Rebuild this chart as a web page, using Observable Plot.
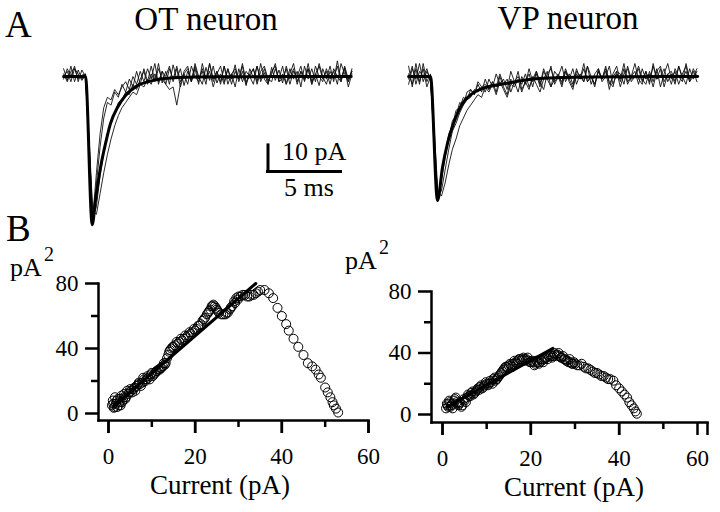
<!DOCTYPE html>
<html>
<head>
<meta charset="utf-8">
<script src="https://cdn.jsdelivr.net/npm/d3@7"></script>
<script src="https://cdn.jsdelivr.net/npm/@observablehq/plot@0.6"></script>
<style>
  html, body { margin: 0; padding: 0; background: #fff; font-family: 'Liberation Serif'; }
  #fig { position: relative; width: 720px; height: 512px; overflow: hidden; }
  #fig svg { position: absolute; left: 0; top: 0; }
  .lbl { position: absolute; white-space: nowrap; line-height: 1; color: #000; font-family: 'Liberation Serif'; }
</style>
</head>
<body>
<div id="fig"></div>
<script>
// ---------- Panel A: current traces (pA), sampled every 0.25 ms from -1.5 ms ----------
const traceStart = -1.5;   // ms
const traceStep = 0.25;    // ms
const otTrace1 = [3,-1.5,4,-2,2.5,-1,1, -30,-56,-41,-27,-16,-10,-11,-6,-8,-3,-6,-1,-4,2,-3,
  3,-2,4,-1.5,5,-2.5,2,-3,4.5,-1, 3,-3.5,2,-2,5,0,-3,3.5,-1.5,4, -2.5,1,-3,3,-1,4.5,-2,2,-3.5,3,
  -0.5,4,-2,1.5,-3,3.5,-1.5,2.5,-2.5,4, -1,3,-3,2,-1.5,5,-2,1,-3.5,3, -1,4,-2,6,-1,3.5,-2,2];
const otTrace2 = [-1,3,0,4,-2,2.5,0, -26,-55,-50,-38,-29,-22,-17,-14,-10,-9,-6,-7,-3,-5,-1,
  2,-3,1,-2,3,-1,-3,-5,-4,-11, -3,2,4,-2,3,-3,5,-1,2,-4, 1,4,-2,3,-3,2,-1,4,-3,1,
  3,-2,5,-1,-3,2,4,-2,1,-3, 3,-1,2,-4,4,-1,3,-2,5,0, -3,2,-1,4,-2,3,-4,1];
const otTrace3 = [1,-2,2,3,-1,0.5,1, -24,-52,-53,-45,-37,-30,-24,-19,-15,-12,-10,-8,-6,-7,-3,
  -4,-1,-3,1,-2,2,-3,3,-1,4, -2,1,-3,4,0,-2,3,-1,5,-2, 2,-3,4,-1,1,-4,3,-2,2,0,
  -3,4,-1,3,-2,1,5,-2,-1,3, -3,2,0,4,-2,3,-3,1,4,-1, 2,-3,3,0,-2,4,-1,2];
const otTrace4 = [0,2,-2,3,1,-1.5,0.5, -28,-54,-37,-22,-12,-8,-9,-5,-7,-4,-2,-5,0,-3,2,
  -2,3,-1,5,-3,2,0,4,-2,3, -4,1,3,-2,4,-1,2,-3,5,-1, 2,-2,4,-3,1,3,-1,5,-2,0,
  3,-3,2,4,-1,-2,3,-1,4,-3, 1,5,-2,2,-1,3,-3,4,0,-2, 3,-1,2,-3,5,1,-2,3];
const vpTrace1 = [4,-4,3,-3,5,-2,1, -25,-47,-38,-30,-22,-19,-13,-12,-8,-9,-5,-7,-3,-6,-1,
  -5,-2,-6,0,-4,-7,-1,-3,2,-5, -2,1,-4,2,-3,3,-1,-4,2,0, 4,-2,1,-3,3,-1,5,-2,0,-4,
  3,-1,2,-5,1,4,-2,3,-3,0, 5,-1,-3,2,-2,4,-1,3,-4,1, 2,-2,4,0,-3,3,-1,2];
const vpTrace2 = [-3,3,-1,5,-2,2,-1, -20,-44,-46,-41,-34,-28,-24,-19,-16,-13,-11,-9,-7,-8,-4,
  -6,-3,-7,-2,-5,-8,-3,-4,-1,-6, -2,-5,0,-3,-6,-1,2,-4,-1,1, -3,2,-2,-5,1,-1,3,-2,0,-3,
  2,-1,4,-3,0,2,-4,1,3,-2, 0,4,-1,-3,2,-2,3,-4,1,5, -1,2,-3,1,4,-2,0,3];
const vpTrace3 = [1,-3,5,-2,3,-4,0, -27,-48,-40,-31,-24,-17,-15,-10,-11,-6,-5,-7,-2,-4,-6,
  -1,-4,1,-3,-1,-5,2,-2,-6,0, -3,3,-2,1,-4,2,-1,4,-3,0, -2,3,-1,-4,2,0,-2,4,-3,1,
  3,-2,0,4,-3,1,-1,5,-2,0, 2,-3,3,-1,1,-4,2,4,-2,1, -3,3,0,-2,5,-1,2,-2];
const vpTrace4 = [-1,4,-3,2,0,3,-2, -23,-46,-44,-36,-28,-21,-18,-14,-11,-9,-8,-5,-6,-4,-3,
  -5,-2,-4,1,-3,-1,-6,-2,0,-3, 1,-4,-1,2,-2,-5,1,3,-2,0, -4,2,-1,3,-3,1,-2,4,0,-3,
  2,-1,3,-2,-4,2,1,-3,4,-1, 0,3,-2,2,-3,5,-1,0,3,-2, 1,-3,4,-1,2,-2,3,0];

// Averaged / fitted traces (thick lines)
const otFitTime    = [-1.5, 0, 0.46, 0.68, 1.03, 1.37, 1.71, 2.19, 2.74, 3.56, 4.66, 6.3, 9, 18.2];
const otFitCurrent = [0, 0, -57, -47.7, -35, -25.8, -18.1, -11.9, -7.3, -3.5, -1.5, -0.4, -0.1, 0];
const vpFitTime    = [-1.5, 0, 0.48, 0.82, 1.16, 1.58, 2.19, 2.88, 3.77, 5.14, 7.4, 11, 18.3];
const vpFitCurrent = [0, 0, -47.7, -35, -25.8, -18.1, -10.4, -6.5, -4.2, -2.7, -0.8, -0.2, 0];

// Scale bar (OT panel): 5 ms, 10 pA
const barTime = [12.5, 17.5];
const barCurrent = [-36.5, -26.5];

// ---------- Panel B: variance (pA^2) vs mean current (pA) ----------
const otCurrent = [0.8,1,1.2,1.5,1.7,2,2.2,2.5,2.8,3,3.3,3.6,4,4.3,4.6,5,5.5,6,6.5,7,7.5,8,8.5,9,9.5,10,10.5,11,11.5,12,12.5,13,13.5,14,14.5,15,16,17,18,19,20,21,22,23,23.5,24,24.5,25,25.5,26,27,27.5,28,28.5,29,29.5,30,31,32,33,34,35,36,37,38,39,40,41,41.6,42.7,43.8,45,46,47,47.8,48.5,49,50,50.6,51.2,51.7,52,52.5,53];
const otVariance = [5,8,3.5,10,6,4,9,7,5,11,8,12,10,14,12,15,13,16,17,19,17,22,20,23,21,25,24,26,27,28,29,30,34,38,40,41,43,45,47,49,51,54,58,62,64,66,66,64,62,61,61,62,64,66,69,71,72,73,72,73,74,76,76,74,71,65,60,55,51,46,41,36,31,29,27,24,22,16,13,10,7,5,3,0.6];
const otCurrentB = [1.1,1.4,1.9,2.4,2.7,3.1,3.5,3.9,4.8,5.2,5.8,6.2,6.8,7.2,7.8,8.2,8.8,9.2,9.8,10.2,10.8,11.2,11.8,12.2,12.8,13.2,13.8,14.2,14.8,15.3,15.7,16.3,16.7,17.3,17.7,18.3,18.7,19.3,19.7,20.3,20.7,21.3,21.7,22.3,22.7,23.2,23.8,24.2,24.8,25.2,26.5,27.2,28.2,29.2,29.8,30.5,31.5,32.5,33.5,34.5];
const otVarianceB = [6,4,8,5,9,7,10,9,13,14,15,14,18,18,19,21,21,22,24,23,25,26,27,28,31,31,36,39,41,42,44,44,46,46,48,48,50,50,52,52,54,55,57,59,61,63,66,67,65,63,61,62,65,68,70,72,73,72,73,75];
const vpCurrent = [0.8,1,1.3,1.6,2,2.3,2.6,3,3.3,3.6,4,4.5,5,5.5,6,6.5,7,7.5,8,8.5,9,9.5,10,10.5,11,11.5,12,12.5,13,13.5,14,14.5,15,15.5,16,16.5,17,17.5,18,18.5,19,19.5,20,20.5,21,21.5,22,22.5,23,23.5,24,24.5,25,25.5,26,26.5,27,27.5,28,28.5,29,29.5,30,31,32,33,34,35,36,37,38,38.7,39.3,40,40.6,41.2,41.8,42.3,42.8,43.3,43.7,44];
const vpVariance = [4,7,5,8,6,4,9,11,7,6,8,6,9,11,12,14,13,15,17,18,17,19,20,20,21,23,22,24,26,28,30,31,32,32,33,34,35,36,36,36,36,35,34,34,33,34,34,35,36,37,38,38,38,39,39,38,37,36,35,34,34,33,33,32,31,30,28,27,25,24,23,22,19,17,15,13,11,8,6,4,2,0.5];
const vpCurrentB = [1.1,1.5,1.8,2.2,2.8,3.2,3.8,4.3,4.8,5.3,5.8,6.3,6.8,7.3,7.8,8.3,8.8,9.3,9.8,10.3,10.8,11.3,11.8,12.3,12.8,13.3,13.8,14.3,14.8,15.3,15.8,16.3,16.8,17.3,17.8,18.3,18.8,19.3,19.8,20.3,20.8,21.3,21.8,22.3,22.8,23.3,23.8,24.3,24.8,25.3,25.8,26.3,26.8,27.3,27.8,28.3,28.8,29.3,29.8,30.5,31.5,32.5,33.5,34.5,35.5,36.5,37.5];
const vpVarianceB = [6,9,5,7,10,8,7,5,10,8,13,12,15,14,16,16,19,18,21,19,22,20,24,23,25,27,29,31,30,33,31,35,33,36,35,37,35,37,34,35,32,35,33,36,34,37,36,39,37,40,38,40,37,38,36,35,36,33,34,32,33,30,29,27,26,25,23];
const otFitX = [1, 34];
const otFitY = [4, 80];
const vpFitX = [1, 25];
const vpFitY = [5, 43];

const xMajor = [0, 20, 40, 60];
const xMinor = [10, 30, 50];
const yMajor = [0, 40, 80];
const yMinor = [20, 60];

// ---------- build ----------
const W = 720, H = 512;
const serif = "Liberation Serif";
const fig = document.getElementById("fig");

function traceRows(values, id) {
  return values.map((v, i) => ({t: traceStart + i * traceStep, i: v, id}));
}
function pairRows(xs, ys) { return xs.map((x, k) => ({x, y: ys[k]})); }

function tracePanel(traces, fitT, fitI, onsetPx, extra) {
  const rows = traces.flatMap((tr, k) => traceRows(tr, k));
  return Plot.plot({
    width: W, height: H, margin: 0,
    style: {background: "transparent", fontFamily: serif},
    x: {type: "linear", domain: [0, 10], range: [onsetPx, onsetPx + 146], axis: null},
    y: {type: "linear", domain: [0, -10], range: [76, 102], axis: null},
    marks: [
      Plot.line(rows, {x: "t", y: "i", z: "id", stroke: "#111", strokeWidth: 0.9, strokeLinejoin: "round"}),
      Plot.line(pairRows(fitT, fitI), {x: "x", y: "y", stroke: "#000", strokeWidth: 3, curve: "monotone-x", strokeLinejoin: "round"}),
      ...(extra || [])
    ]
  });
}

const scaleBarMarks = [
  Plot.ruleY([barCurrent[0]], {x1: barTime[0], x2: barTime[1], stroke: "#000", strokeWidth: 3, strokeLinecap: "square"}),
  Plot.ruleX([barTime[0]], {y1: barCurrent[0], y2: barCurrent[1], stroke: "#000", strokeWidth: 3, strokeLinecap: "square"})
];

fig.appendChild(tracePanel([otTrace1, otTrace2, otTrace3, otTrace4], otFitTime, otFitCurrent, 85, scaleBarMarks));
fig.appendChild(tracePanel([vpTrace1, vpTrace2, vpTrace3, vpTrace4], vpFitTime, vpFitCurrent, 430));

function varPanel(cfg) {
  const pts = pairRows(cfg.xs, cfg.ys).concat(pairRows(cfg.xs2, cfg.ys2));
  const fit = pairRows(cfg.fx, cfg.fy);
  const axisStyle = {strokeWidth: 2.5, label: null};
  const lastLabel = xMajor.slice(-1);
  const firstLabels = cfg.shiftLast ? xMajor.slice(0, -1) : xMajor;
  return Plot.plot({
    width: W, height: H,
    marginLeft: cfg.ml, marginRight: cfg.mr, marginTop: cfg.mt, marginBottom: cfg.mb,
    style: {background: "transparent", fontFamily: serif, fontSize: "23px", color: "#000"},
    x: {type: "linear", domain: [0, 60], range: cfg.xr},
    y: {type: "linear", domain: [0, 80], range: cfg.yr},
    marks: [
      Plot.frame({anchor: "bottom", strokeWidth: 2.5, stroke: "#000"}),
      Plot.frame({anchor: "left", strokeWidth: 2.5, stroke: "#000"}),
      Plot.axisX({...axisStyle, ticks: xMajor, tickSize: 13, tickFormat: () => ""}),
      Plot.axisX({...axisStyle, ticks: firstLabels, tickSize: 13, tickPadding: 14, fontSize: 23}),
      ...(cfg.shiftLast ? [Plot.axisX({...axisStyle, ticks: lastLabel, tickSize: 13, tickPadding: 14, fontSize: 23, dx: -10})] : []),
      Plot.axisX({...axisStyle, ticks: xMinor, tickSize: 7, tickFormat: () => ""}),
      Plot.axisY({...axisStyle, ticks: yMajor, tickSize: 13, tickPadding: 7, fontSize: 23}),
      Plot.axisY({...axisStyle, ticks: yMinor, tickSize: 7, tickFormat: () => ""}),
      Plot.dot(pts, {x: "x", y: "y", r: 4.5, stroke: "#000", strokeWidth: 1, fill: "none"}),
      Plot.line(fit, {x: "x", y: "y", stroke: "#000", strokeWidth: 3})
    ]
  });
}

fig.appendChild(varPanel({xs: otCurrent, ys: otVariance, xs2: otCurrentB, ys2: otVarianceB, fx: otFitX, fy: otFitY,
  ml: 98, mr: W - 368, mt: 283, mb: H - 420, xr: [108, 368], yr: [413, 283], shiftLast: false}));
fig.appendChild(varPanel({xs: vpCurrent, ys: vpVariance, xs2: vpCurrentB, ys2: vpVarianceB, fx: vpFitX, fy: vpFitY,
  ml: 431, mr: W - 707, mt: 291, mb: H - 422, xr: [442, 707], yr: [414, 291], shiftLast: true}));

// ---------- text labels (HTML, positioned by baseline) ----------
const labels = [
  {text: "A", x: 5, y: 37, size: 37, anchor: "start"},
  {text: "B", x: 6, y: 241, size: 37, anchor: "start"},
  {text: "OT neuron", x: 206, y: 31, size: 33, anchor: "middle"},
  {text: "VP neuron", x: 568, y: 30, size: 33, anchor: "middle"},
  {text: "10 pA", x: 282, y: 161, size: 26, anchor: "start"},
  {text: "5 ms", x: 309, y: 197, size: 26, anchor: "middle"},
  {text: "pA", x: 10, y: 277, size: 26, anchor: "start"},
  {text: "2", x: 44, y: 261, size: 20, anchor: "start"},
  {text: "pA", x: 345, y: 270, size: 26, anchor: "start"},
  {text: "2", x: 379, y: 254, size: 20, anchor: "start"},
  {text: "Current (pA)", x: 220, y: 495, size: 27, anchor: "middle"},
  {text: "Current (pA)", x: 574, y: 497, size: 27, anchor: "middle"}
];
for (const d of labels) {
  const el = document.createElement("div");
  el.className = "lbl";
  el.textContent = d.text;
  el.style.fontSize = d.size + "px";
  el.style.left = d.x + "px";
  el.style.top = (d.y - 0.8375 * d.size) + "px";
  if (d.anchor === "middle") el.style.transform = "translateX(-50%)";
  fig.appendChild(el);
}
</script>
</body>
</html>
